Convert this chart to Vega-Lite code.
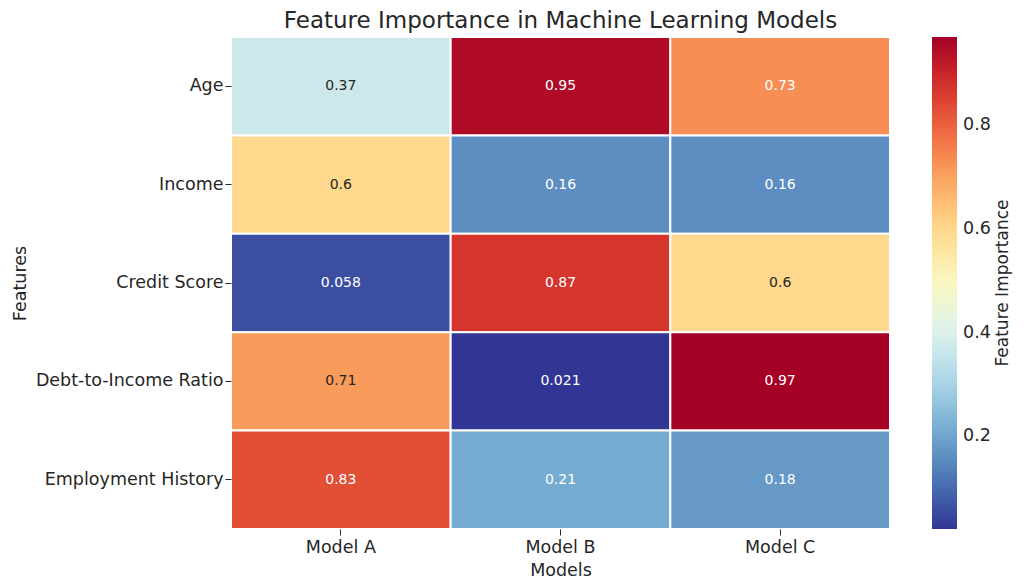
{
  "$schema": "https://vega.github.io/schema/vega-lite/v6.json",
  "width": 659,
  "height": 492,
  "autosize": {"type": "none"},
  "padding": {"left": 231, "top": 37, "right": 134, "bottom": 58},
  "background": "white",
  "config": {
    "font": "DejaVu Sans",
    "view": {"stroke": null},
    "axis": {"labelColor": "#262626", "titleColor": "#262626", "tickColor": "#262626", "domain": false, "grid": false}
  },
  "title": {"text": "Feature Importance in Machine Learning Models", "fontSize": 23, "fontWeight": "normal", "color": "#262626", "offset": 3, "anchor": "middle"},
  "data": {
    "values": [
      {"Feature": "Age", "Model": "Model A", "Importance": 0.37},
      {"Feature": "Age", "Model": "Model B", "Importance": 0.95},
      {"Feature": "Age", "Model": "Model C", "Importance": 0.73},
      {"Feature": "Income", "Model": "Model A", "Importance": 0.6},
      {"Feature": "Income", "Model": "Model B", "Importance": 0.16},
      {"Feature": "Income", "Model": "Model C", "Importance": 0.16},
      {"Feature": "Credit Score", "Model": "Model A", "Importance": 0.058},
      {"Feature": "Credit Score", "Model": "Model B", "Importance": 0.87},
      {"Feature": "Credit Score", "Model": "Model C", "Importance": 0.6},
      {"Feature": "Debt-to-Income Ratio", "Model": "Model A", "Importance": 0.71},
      {"Feature": "Debt-to-Income Ratio", "Model": "Model B", "Importance": 0.021},
      {"Feature": "Debt-to-Income Ratio", "Model": "Model C", "Importance": 0.97},
      {"Feature": "Employment History", "Model": "Model A", "Importance": 0.83},
      {"Feature": "Employment History", "Model": "Model B", "Importance": 0.21},
      {"Feature": "Employment History", "Model": "Model C", "Importance": 0.18}
    ]
  },
  "encoding": {
    "x": {"field": "Model", "type": "nominal", "sort": ["Model A", "Model B", "Model C"],
      "scale": {"paddingInner": 0, "paddingOuter": 0},
      "axis": {"title": "Models", "labelAngle": 0, "labelFontSize": 17.5, "titleFontSize": 17.5, "titleFontWeight": "normal", "tickSize": 6, "labelPadding": 3, "titlePadding": 6}},
    "y": {"field": "Feature", "type": "nominal", "sort": ["Age", "Income", "Credit Score", "Debt-to-Income Ratio", "Employment History"],
      "scale": {"paddingInner": 0, "paddingOuter": 0},
      "axis": {"title": "Features", "labelFontSize": 17.5, "labelLimit": 400, "titleFontSize": 17.5, "titleFontWeight": "normal", "tickSize": 6, "labelPadding": 2, "titlePadding": 6}}
  },
  "layer": [
    {
      "mark": {"type": "rect", "stroke": "white", "strokeWidth": 2},
      "encoding": {
        "color": {"field": "Importance", "type": "quantitative",
          "scale": {"scheme": "redyellowblue", "reverse": true, "zero": false, "nice": false},
          "legend": {"title": "Feature Importance", "orient": "right", "offset": 42, "padding": 0,
            "gradientLength": 492, "gradientThickness": 25, "direction": "vertical",
            "values": [0.2, 0.4, 0.6, 0.8], "format": ".1f",
            "labelFontSize": 17.5, "labelColor": "#262626", "labelOffset": 6,
            "titleOrient": "right", "titleAnchor": "middle", "titleFontSize": 17, "titleFontWeight": "normal", "titleColor": "#262626", "titlePadding": 6,
            "encode": {"title": {"update": {"angle": {"value": 270}, "dy": {"value": 15}}}}}}
      }
    },
    {
      "mark": {"type": "text", "fontSize": 14},
      "encoding": {
        "text": {"field": "Importance", "type": "quantitative", "format": ".2~g"},
        "color": {"condition": {"test": "datum.Importance > 0.3 && datum.Importance < 0.72", "value": "#262626"}, "value": "white"}
      }
    }
  ]
}
